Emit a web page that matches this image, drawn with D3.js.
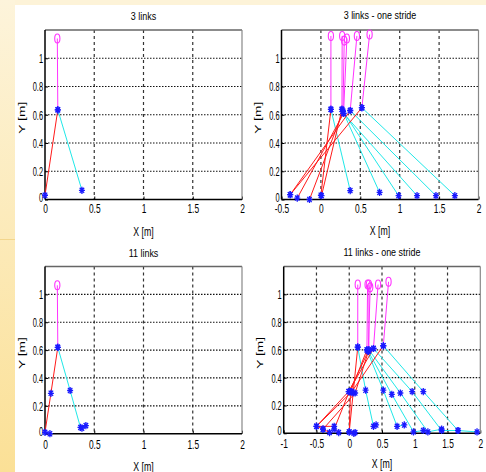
<!DOCTYPE html>
<html><head><meta charset="utf-8">
<script src="https://cdn.jsdelivr.net/npm/d3@7"></script>
<style>body{margin:0;background:#fff}svg{display:block}text{font-family:"Liberation Sans",Arial,sans-serif;fill:#000}</style>
</head><body><svg id="c" width="486" height="472"></svg>
<script>
// ---------- data ----------
const titles = ["3 links", "3 links - one stride", "11 links", "11 links - one stride"];
const yTicks = [0, 0.2, 0.4, 0.6, 0.8, 1];
const xTicksA = [0, 0.5, 1, 1.5, 2];
const xTicksB = [-0.5, 0, 0.5, 1, 1.5, 2];
const xTicksC = [-1, -0.5, 0, 0.5, 1, 1.5, 2];

// 3 links (single posture): stance leg, swing leg, head
const links3Stance = [[[0, 0.03], [0.13, 0.635]]];
const links3Swing = [[[0.13, 0.635], [0.375, 0.065]]];
const links3Head = [[0.125, 1.14]];

// 3 links - one stride (6 postures)
const stride3Stance = [
  [[0, 0.03], [0.127, 0.638]],
  [[0.008, 0.027], [0.267, 0.638]],
  [[-0.145, 0.0], [0.28, 0.625]],
  [[-0.30, 0.01], [0.287, 0.609]],
  [[-0.39, 0.034], [0.372, 0.63]],
  [[-0.39, 0.034], [0.52, 0.65]]
];
const stride3Swing = [
  [[0.127, 0.638], [0.372, 0.063]],
  [[0.267, 0.638], [0.745, 0.05]],
  [[0.28, 0.625], [0.986, 0.027]],
  [[0.287, 0.609], [1.22, 0.027]],
  [[0.372, 0.63], [1.46, 0.027]],
  [[0.52, 0.65], [1.70, 0.027]]
];
const stride3Head = [[0.127, 1.158], [0.27, 1.158], [0.296, 1.125], [0.33, 1.14], [0.457, 1.158], [0.618, 1.168]];

// 11 links (single posture)
const links11Stance = [[[0.05, 0.0], [0.0, 0.01], [0.06, 0.29], [0.13, 0.62]]];
const links11Swing = [[[0.13, 0.62], [0.255, 0.31], [0.36, 0.045], [0.375, 0.04], [0.415, 0.058]]];
const links11Head = [[0.125, 1.065]];

// 11 links - one stride (6 postures)
const stride11Stance = [
  [[0.07, 0.0], [0.0, 0.01], [0.06, 0.29], [0.13, 0.62]],
  [[0.09, 0.005], [0.0, 0.01], [0.02, 0.30], [0.27, 0.60]],
  [[-0.16, 0.005], [-0.23, 0.03], [0.0, 0.30], [0.29, 0.59]],
  [[-0.3, 0.005], [-0.4, 0.03], [0.09, 0.29], [0.30, 0.60]],
  [[-0.23, 0.05], [-0.5, 0.05], [-0.01, 0.30], [0.37, 0.61]],
  [[-0.4, 0.03], [-0.5, 0.05], [0.04, 0.30], [0.52, 0.63]]
];
const stride11Swing = [
  [[0.13, 0.62], [0.25, 0.31], [0.37, 0.05], [0.41, 0.06]],
  [[0.27, 0.60], [0.52, 0.31], [0.73, 0.05], [0.84, 0.06]],
  [[0.29, 0.59], [0.65, 0.28], [0.98, 0.01], [1.13, 0.02]],
  [[0.30, 0.60], [0.78, 0.29], [1.2, 0.01], [1.41, 0.03]],
  [[0.37, 0.61], [0.96, 0.30], [1.41, 0.02], [1.66, 0.02]],
  [[0.52, 0.63], [1.13, 0.30], [1.66, 0.02], [1.95, 0.01]]
];
const stride11Head = [[0.13, 1.07], [0.28, 1.07], [0.32, 1.05], [0.30, 1.07], [0.44, 1.07], [0.60, 1.09]];

// ---------- drawing ----------
const svg = d3.select("#c");
const defs = svg.append("defs");
const lg = defs.append("linearGradient").attr("id", "slide").attr("x1", 0).attr("y1", 0).attr("x2", 0).attr("y2", 1);
lg.append("stop").attr("offset", "0%").attr("stop-color", "#fdf4db");
lg.append("stop").attr("offset", "100%").attr("stop-color", "#fbe096");
svg.append("rect").attr("x", 0).attr("y", 0).attr("width", 486).attr("height", 472).attr("fill", "#fff");
svg.append("rect").attr("x", 0).attr("y", 0).attr("width", 486).attr("height", 5).attr("fill", "#fdf3d8");
svg.append("rect").attr("x", 0).attr("y", 0).attr("width", 15).attr("height", 472).attr("fill", "url(#slide)");
svg.append("line").attr("x1", 0).attr("x2", 15).attr("y1", 239.5).attr("y2", 239.5).attr("stroke", "#f3d68c").attr("stroke-width", 1);

const panels = [
  {title: titles[0], xd: [0, 2], xt: xTicksA, l: 45, r: 242, t: 30, b: 199.5, titleY: 20, xlabY: 236, ylabX: 25, tickY: 203.5,
   st: links3Stance, sw: links3Swing, hd: links3Head},
  {title: titles[1], xd: [-0.5, 2], xt: xTicksB, l: 281.5, r: 478.5, t: 30, b: 199.5, titleY: 19, xlabY: 235, ylabX: 261, tickY: 203,
   st: stride3Stance, sw: stride3Swing, hd: stride3Head},
  {title: titles[2], xd: [0, 2], xt: xTicksA, l: 45, r: 242, t: 266.5, b: 433.7, titleY: 257, xlabY: 471, ylabX: 25, tickY: 439.5,
   st: links11Stance, sw: links11Swing, hd: links11Head},
  {title: titles[3], xd: [-1, 2], xt: xTicksC, l: 283.7, r: 480.3, t: 266.5, b: 433.3, titleY: 256, xlabY: 468, ylabX: 263, tickY: 438.5,
   st: stride11Stance, sw: stride11Swing, hd: stride11Head}
];

const star = "M-3,0H3M0,-3.6V3.6M-2.2,-2.6L2.2,2.6M-2.2,2.6L2.2,-2.6";

panels.forEach(p => {
  const x = d3.scaleLinear().domain(p.xd).range([p.l, p.r]);
  const y = d3.scaleLinear().domain([0, 1.2]).range([p.b, p.t]);
  const g = svg.append("g");
  g.append("rect").attr("x", p.l).attr("y", p.t).attr("width", p.r - p.l).attr("height", p.b - p.t).attr("fill", "#fff");

  // grid
  g.selectAll(".gx").data(p.xt.filter(v => v > p.xd[0] && v < p.xd[1])).enter().append("line")
    .attr("x1", d => x(d)).attr("x2", d => x(d)).attr("y1", p.t).attr("y2", p.b)
    .attr("stroke", "#333").attr("stroke-width", 1.2).attr("stroke-dasharray", "3,3");
  g.selectAll(".gy").data(yTicks.filter(v => v > 0)).enter().append("line")
    .attr("x1", p.l).attr("x2", p.r).attr("y1", d => y(d)).attr("y2", d => y(d))
    .attr("stroke", "#111").attr("stroke-width", 1.2).attr("stroke-dasharray", "1.5,1.5");

  // axes
  const ax = g.append("g").attr("transform", `translate(0,${p.b})`)
    .call(d3.axisBottom(x).tickValues(p.xt).tickFormat(d => String(d)).tickSize(-3).tickPadding(p.tickY - p.b));
  ax.select(".domain").remove();
  ax.selectAll("line").attr("stroke", "#000");
  ax.selectAll("text").attr("font-size", 13.5).attr("transform", "scale(0.62,1)").attr("font-family", "Liberation Sans, Arial, sans-serif");
  const ay = g.append("g").attr("transform", `translate(${p.l},0)`)
    .call(d3.axisLeft(y).tickValues(yTicks).tickFormat(d => String(d)).tickSize(-3).tickPadding(2));
  ay.select(".domain").remove();
  ay.selectAll("line").attr("stroke", "#000");
  ay.selectAll("text").attr("font-size", 13.5).attr("x", -2 / 0.55).attr("transform", "scale(0.55,1)")
    .attr("font-family", "Liberation Sans, Arial, sans-serif")
    .attr("dy", d => d === 0 ? "0.12em" : "0.32em");

  // box
  g.append("line").attr("x1", p.l).attr("x2", p.r).attr("y1", p.t).attr("y2", p.t).attr("stroke", "#666").attr("stroke-width", 1.5);
  g.append("line").attr("x1", p.r).attr("x2", p.r).attr("y1", p.t).attr("y2", p.b).attr("stroke", "#888").attr("stroke-width", 1.2);
  g.append("line").attr("x1", p.l).attr("x2", p.r).attr("y1", p.b).attr("y2", p.b).attr("stroke", "#000").attr("stroke-width", 1.5);
  g.append("line").attr("x1", p.l).attr("x2", p.l).attr("y1", p.t).attr("y2", p.b).attr("stroke", "#000").attr("stroke-width", 1.5);

  // texts
  const cx = (p.l + p.r) / 2;
  g.append("text").attr("transform", `translate(${cx},${p.titleY}) scale(0.78,1)`).attr("text-anchor", "middle").attr("font-size", 11.5).text(p.title);
  g.append("text").attr("transform", `translate(${cx},${p.xlabY}) scale(0.7,1)`).attr("text-anchor", "middle").attr("font-size", 12.5).text("X [m]");
  g.append("text").attr("transform", `translate(${p.ylabX},${(p.t + p.b) / 2 + 3}) rotate(-90) scale(1.15,0.72)`).attr("text-anchor", "middle").attr("font-size", 12).text("Y [m]");

  // skeleton lines
  const line = d3.line().x(d => x(d[0])).y(d => y(d[1]));
  const lines = g.append("g").attr("fill", "none").attr("stroke-width", 1);
  p.st.forEach((s, i) => {
    lines.append("path").attr("d", line(s)).attr("stroke", "#ff1a1a");
    lines.append("path").attr("d", line(p.sw[i])).attr("stroke", "#20e8e8");
    const hip = s[s.length - 1];
    lines.append("path").attr("d", line([hip, p.hd[i]])).attr("stroke", "#ff33ff");
  });
  // markers
  const pts = [];
  p.st.forEach((s, i) => { s.forEach(q => pts.push(q)); p.sw[i].forEach(q => pts.push(q)); });
  g.selectAll(".mk").data(pts).enter().append("path")
    .attr("d", star).attr("transform", d => `translate(${x(d[0])},${y(d[1])})`)
    .attr("stroke", "#1a1aff").attr("stroke-width", 1.3).attr("fill", "none");
  g.selectAll(".hd").data(p.hd).enter().append("ellipse")
    .attr("cx", d => x(d[0])).attr("cy", d => y(d[1])).attr("rx", 2.6).attr("ry", 4.5)
    .attr("fill", "none").attr("stroke", "#ff33ff").attr("stroke-width", 1.1);
});
</script></body></html>
